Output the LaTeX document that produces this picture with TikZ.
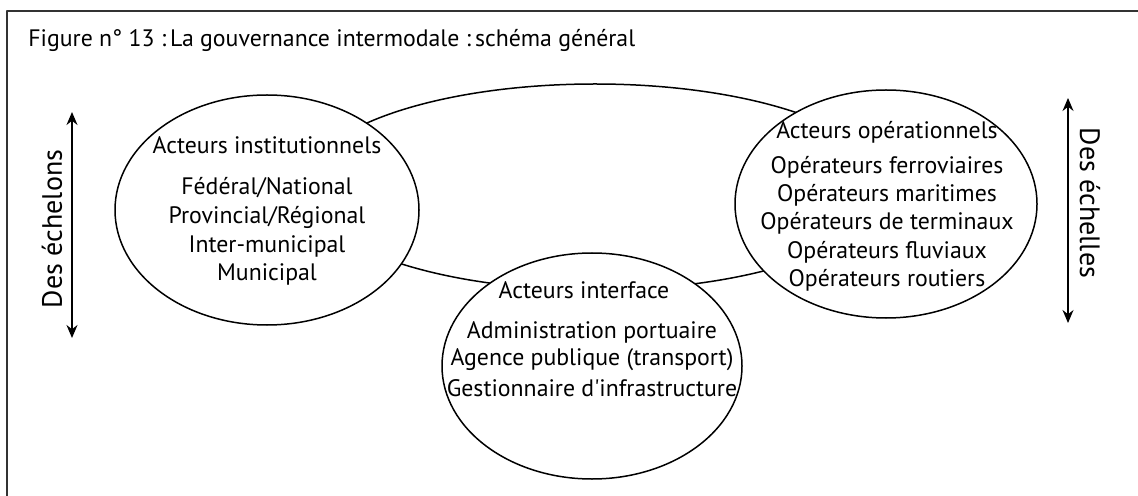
\documentclass[tikz,border=0pt]{standalone}
\usepackage{fontspec}
\setmainfont{PT Sans}
\usetikzlibrary{shapes.geometric,arrows.meta}
\begin{document}
\begin{tikzpicture}[x=0.5pt,y=-0.5pt,line join=round,line cap=round,
  bulle/.style={ellipse,draw,fill=white,line width=0.75pt,inner sep=0pt},
  txt/.style={inner sep=0pt,font=\fontsize{11.9}{13}\selectfont},
  cote/.style={inner sep=0pt,font=\fontsize{14}{16}\selectfont},
  echelle/.style={{Stealth[length=6.5pt,width=5.5pt]}-{Stealth[length=6.5pt,width=5.5pt]},line width=0.6pt}]
\useasboundingbox (0,0) rectangle (1138,496);
\draw[line width=0.6pt,black!80] (7,496) -- (7,11) -- (1138,11);
\node[txt,anchor=base west] (titre) at (28,47) {Figure n° 13 :\,La gouvernance intermodale :\,schéma général};
% ellipse de liaison
\node[bulle,fill=none,minimum width=291pt,minimum height=103pt] (lien) at (595,187) {};
% les trois groupes d'acteurs
\node[bulle,minimum width=152pt,minimum height=115pt] (inst) at (267,210) {};
\node[bulle,minimum width=151pt,minimum height=114pt] (oper) at (886,204) {};
\node[bulle,minimum width=150pt,minimum height=113pt] (inter) at (592,366) {};
\node[txt] (inst0) at (267,145) {Acteurs institutionnels};
\node[txt] (inst1) at (267,188) {Fédéral/National};
\node[txt] (inst2) at (267,217) {Provincial/Régional};
\node[txt] (inst3) at (267,246) {Inter-municipal};
\node[txt] (inst4) at (267,274) {Municipal};
\node[txt] (oper0) at (887,132) {Acteurs opérationnels};
\node[txt] (oper1) at (887,167) {Opérateurs ferroviaires};
\node[txt] (oper2) at (887,195) {Opérateurs maritimes};
\node[txt] (oper3) at (887,223) {Opérateurs de terminaux};
\node[txt] (oper4) at (887,252) {Opérateurs fluviaux};
\node[txt] (oper5) at (887,280) {Opérateurs routiers};
\node[txt] (inter0) at (584,290) {Acteurs interface};
\node[txt] (inter1) at (592,332) {Administration portuaire};
\node[txt] (inter2) at (592,360) {Agence publique (transport)};
\node[txt] (inter3) at (592,388) {Gestionnaire d\textquotesingle infrastructure};
% echelons et echelles
\coordinate (g1) at (72,112);
\coordinate (g2) at (72,338);
\draw[echelle] (g1) -- (g2);
\node[cote,rotate=90] (echelons) at (52,229) {Des échelons};
\coordinate (d1) at (1068,98);
\coordinate (d2) at (1068,323);
\draw[echelle] (d1) -- (d2);
\node[cote,rotate=-90] (echelles) at (1090,203) {Des échelles};
\end{tikzpicture}
\end{document}
